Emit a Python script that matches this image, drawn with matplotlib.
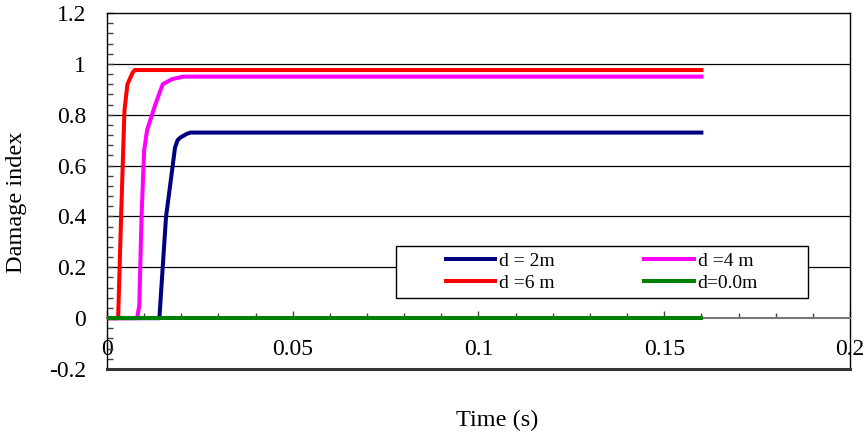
import matplotlib.pyplot as plt
from matplotlib.patches import Rectangle
from matplotlib.ticker import MultipleLocator

plt.rcParams['font.family'] = ['Liberation Serif', 'DejaVu Serif']

# damage index vs time
t_2m = [0, 0.0141, 0.0159, 0.0168, 0.0176, 0.0183, 0.0190, 0.0197, 0.0215, 0.0225, 0.16]
dmg_2m = [0, 0, 0.40, 0.50, 0.59, 0.67, 0.70, 0.71, 0.725, 0.73, 0.73]

t_4m = [0, 0.0081, 0.0087, 0.0093, 0.0100, 0.0108, 0.0130, 0.0150, 0.0175, 0.0205, 0.16]
dmg_4m = [0, 0, 0.05, 0.40, 0.66, 0.74, 0.84, 0.92, 0.94, 0.95, 0.95]

t_6m = [0, 0.0030, 0.0038, 0.0047, 0.0055, 0.0069, 0.0075, 0.16]
dmg_6m = [0, 0, 0.40, 0.816, 0.92, 0.966, 0.976, 0.976]

t_0m = [0, 0.16]
dmg_0m = [0, 0]

labels = ['d = 2m', 'd =4 m', 'd =6 m', 'd=0.0m']

fig = plt.figure(figsize=(8.67, 4.33), dpi=100)
ax = fig.add_axes([0.1234, 0.1478, 0.857, 0.822])

l2, = ax.plot(t_2m, dmg_2m, color='#000080', lw=2.9, label=labels[0], zorder=3)
l4, = ax.plot(t_4m, dmg_4m, color='#FF00FF', lw=2.9, label=labels[1], zorder=3)
l6, = ax.plot(t_6m, dmg_6m, color='#FF0000', lw=2.9, label=labels[2], zorder=3)
l0, = ax.plot(t_0m, dmg_0m, color='#008000', lw=2.9, label=labels[3], zorder=4)

ax.set_xlim(0, 0.2)
ax.set_ylim(-0.2, 1.2)

# horizontal grid
for yv in [0.2, 0.4, 0.6, 0.8, 1.0]:
    ax.axhline(yv, color='black', lw=0.9, zorder=1)

ax.yaxis.set_minor_locator(MultipleLocator(0.04))
ax.xaxis.set_minor_locator(MultipleLocator(0.01))
ax.set_yticks([-0.2, 0, 0.2, 0.4, 0.6, 0.8, 1.0, 1.2])
ax.set_yticklabels(['-0.2', '0', '0.2', '0.4', '0.6', '0.8', '1', '1.2'])
ax.set_xticks([0, 0.05, 0.1, 0.15, 0.2])
ax.set_xticklabels(['0', '0.05', '0.1', '0.15', '0.2'])

# x axis sits on the zero line, bottom border drawn separately
ax.spines['bottom'].set_position(('data', 0))
ax.spines['bottom'].set_color('#777777')
ax.spines['bottom'].set_linewidth(1.5)
ax.axhline(-0.2, color='#333333', lw=2.2, clip_on=False, zorder=5)
for s in ['left', 'right', 'top']:
    ax.spines[s].set_color('black')
    ax.spines[s].set_linewidth(1.0)

ax.tick_params(axis='x', which='major', direction='in', length=5, width=1,
               color='#444444', pad=15, labelsize=17)
ax.tick_params(axis='x', which='minor', direction='in', length=3.5, width=1,
               color='#444444')
ax.tick_params(axis='y', which='major', direction='in', length=4.5, width=1,
               color='#444444', pad=15, labelsize=17)
ax.tick_params(axis='y', which='minor', direction='in', length=4.5, width=1,
               color='#444444')

fig.text(0.573, 1 - 420 / 433, 'Time (s)', ha='center', va='center', fontsize=17.5)
fig.text(0.019, 1 - 202 / 433, 'Damage index', ha='center', va='center',
         rotation=90, fontsize=17.5)

# legend box
box = Rectangle((0.389, 0.199), 0.554, 0.147, transform=ax.transAxes,
                facecolor='white', edgecolor='black', lw=1.0, zorder=6)
ax.add_patch(box)
leg = ax.legend([l2, l6, l4, l0], [labels[0], labels[2], labels[1], labels[3]],
                ncol=2, loc='center', bbox_to_anchor=(0.666, 0.272),
                frameon=False, fontsize=14, handlelength=2.55,
                handletextpad=0.2, columnspacing=4.6, labelspacing=0.25)
leg.set_zorder(7)

fig.savefig('out.png', dpi=100)
